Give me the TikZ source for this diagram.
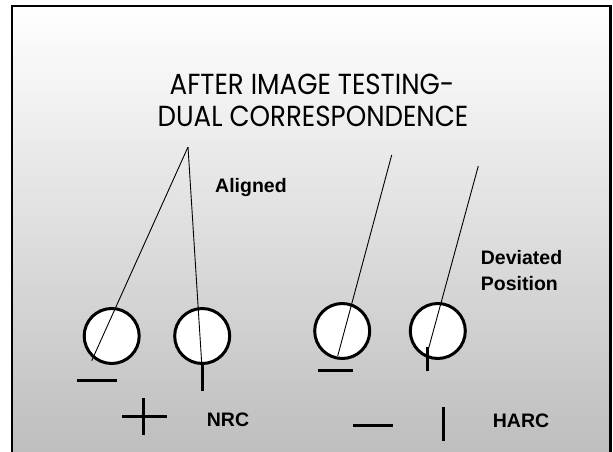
\documentclass[tikz,border=0pt]{standalone}
\usepackage{fontspec}
\setmainfont{Liberation Sans}
\newfontfamily\titlefont[FakeStretch=0.9]{Poppins}
\usetikzlibrary{positioning}
\definecolor{slidegray}{RGB}{190,190,190}
\definecolor{slidemid}{RGB}{243,243,243}
\tikzset{
  slideframe/.style={line width=2.5pt, black},
  ring/.style={circle, draw, fill=white, line width=3pt, minimum size=55pt, inner sep=0pt},
  ray/.style={line width=0.9pt},
  thickbar/.style={line width=3pt},
  blab/.style={font=\fontsize{19.5}{27}\selectfont\bfseries, anchor=base west, inner sep=0pt},
  ttl/.style={font=\titlefont\fontsize{29}{33}\selectfont, anchor=base, inner sep=0pt},
}

\begin{document}
\begin{tikzpicture}[x=1pt,y=-1pt]
  \useasboundingbox (0,0) rectangle (613,452);
  \shade[top color=white, middle color=slidemid, bottom color=slidegray] (12.2,6.2) rectangle (610.5,452);
  \draw[slideframe] (12.2,470) -- (12.2,6.2) -- (610.5,6.2) -- (610.5,470);
  \node[ttl] (title1) at (312,94) {AFTER IMAGE TESTING-};
  \node[ttl] (title2) at (313,126.7) {DUAL CORRESPONDENCE};
  \node[ring] (c1) at (111.7,336) {};
  \node[ring] (c2) at (202.2,336) {};
  \node[ring] (c3) at (342.2,331) {};
  \node[ring] (c4) at (437.8,331) {};
  \coordinate (apexA) at (188,147);
  \coordinate (apexB) at (391.7,155);
  \coordinate (apexC) at (478.3,166);
  \coordinate (end1) at (91.7,360.7);
  \coordinate (end2) at (201.7,363.3);
  \coordinate (end3) at (337.7,356);
  \coordinate (end4) at (427.7,351.7);
  \draw[ray] (apexA) -- (end1);
  \draw[ray] (apexA) -- (end2);
  \draw[ray] (apexB) -- (end3);
  \draw[ray] (apexC) -- (end4);
  \draw[thickbar] (77.3,380.7) -- (116.7,380.7);
  \draw[thickbar] (c2.south) -- (202.2,390.7);
  \draw[thickbar] (318.3,370.7) -- (352.7,370.7);
  \draw[thickbar] (427.7,346.7) -- (427.7,370.7);
  \draw[thickbar] (122.3,416) -- (166.7,416);
  \draw[thickbar] (143.3,398.3) -- (143.3,435);
  \draw[thickbar] (353.3,425.7) -- (392.7,425.7);
  \draw[thickbar] (443.3,406.7) -- (443.3,441);
  \node[blab] (aligned) at (215,192) {Aligned};
  \node[blab] (deviated) at (480.7,264.3) {Deviated};
  \node[blab] (position) at (480.7,290) {Position};
  \node[blab] (nrc) at (206.7,426) {NRC};
  \node[blab] (harc) at (492.7,427) {HARC};
\end{tikzpicture}
\end{document}
